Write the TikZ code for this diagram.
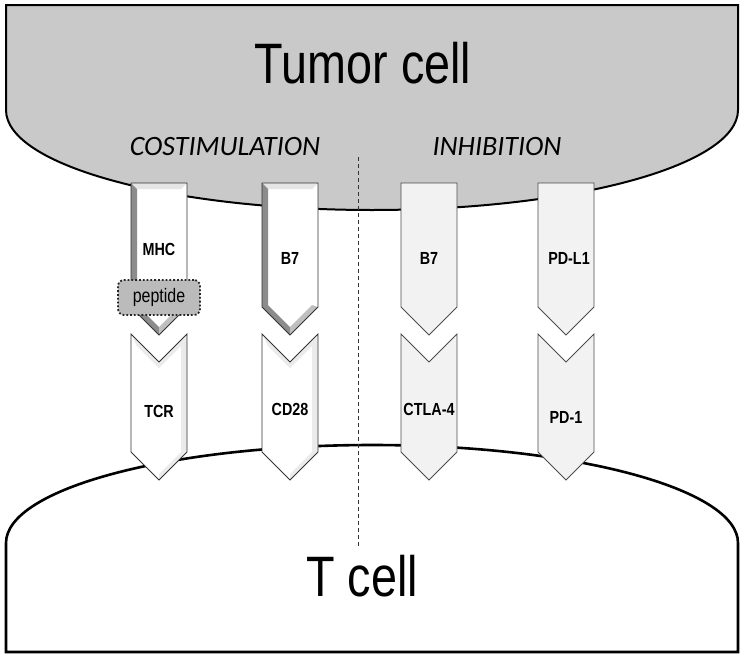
\documentclass[tikz,border=0pt]{standalone}
\usepackage{fontspec}
\setmainfont{Liberation Sans}
\newfontfamily\headfont{Carlito}
\definecolor{tumorgray}{RGB}{201,201,201}
\definecolor{palegray}{RGB}{242,242,242}
\definecolor{pepgray}{RGB}{187,187,187}
\newcommand{\narrow}[1]{\scalebox{0.82}[1]{#1}}

\begin{document}
\begin{tikzpicture}[x=1pt,y=-1pt,
  cell/.style={draw=black,line width=2.6pt},
  bigname/.style={anchor=base,font=\fontsize{57}{60}\selectfont},
  group/.style={anchor=base,font=\headfont\itshape\fontsize{28}{30}\selectfont},
  mol/.style={font=\fontsize{17.5}{19}\selectfont\bfseries},
  bright/.style={draw=black!80,line width=0.8pt},
  pale/.style={draw=black!70,line width=0.8pt,fill=palegray}
]
\useasboundingbox (0,0) rectangle (744,656);
% cells
\draw[cell,fill=white] (6,652) -- (6,543)
  arc[start angle=180,end angle=360,x radius=366,y radius=98] -- (738,652) -- cycle;
\draw[cell,line width=2pt,fill=tumorgray] (6,5) -- (738,5) -- (738,110)
  arc[start angle=0,end angle=180,x radius=366,y radius=100] -- cycle;

\node[bigname] (tumor) at (363,83) {\narrow{Tumor cell}};
\node[bigname] (tcell) at (362,596) {\narrow{T cell}};
\node[group] (costim) at (225,155) {COSTIMULATION};
\node[group] (inhib) at (497,155) {INHIBITION};

% divider
\coordinate (divtop) at (358,157);
\coordinate (divbot) at (358,546);
\draw[black!80,line width=0.6pt,dash pattern=on 4pt off 3pt] (divtop) -- (divbot);

% costimulation pairs
\foreach \x in {131,262}{
  \fill[white] (\x,183) -- ++(56,0) -- ++(0,124) -- ++(-28,28) -- ++(-28,-28) -- cycle;
  \fill[black!10] (\x,183) -- ++(56,0) -- ++(-6,6) -- ++(-44,0) -- cycle;
  \fill[black!45] (\x,183) -- ++(6,6) -- ++(0,116) -- ++(22,22) -- ++(0,8) -- ++(-28,-28) -- cycle;
  \fill[black!25] (\x+28,335) -- ++(0,-8) -- ++(22,-22) -- ++(6,2) -- cycle;
  \draw[bright] (\x,183) -- ++(56,0) -- ++(0,124) -- ++(-28,28) -- ++(-28,-28) -- cycle;
  \fill[white] (\x,334) -- ++(28,28) -- ++(28,-28) -- ++(0,118) -- ++(-28,28) -- ++(-28,-28) -- cycle;
  \fill[black!8] (\x,334) -- ++(28,28) -- ++(28,-28) -- ++(0,118) -- ++(-28,28) -- ++(0,-6)
    -- ++(22,-22) -- ++(0,-106) -- ++(-22,22) -- ++(-22,-22) -- cycle;
  \draw[bright] (\x,334) -- ++(28,28) -- ++(28,-28) -- ++(0,118) -- ++(-28,28) -- ++(-28,-28) -- cycle;
}
% inhibition pairs
\foreach \x in {401,538}{
  \draw[pale] (\x,183) -- ++(56,0) -- ++(0,124) -- ++(-28,28) -- ++(-28,-28) -- cycle;
  \draw[pale] (\x,334) -- ++(28,28) -- ++(28,-28) -- ++(0,118) -- ++(-28,28) -- ++(-28,-28) -- cycle;
}

\node[mol] (mhc) at (159,249) {\narrow{MHC}};
\node[mol] (bsevenA) at (290,258) {\narrow{B7}};
\node[mol] (bsevenB) at (429,258) {\narrow{B7}};
\node[mol] (pdlone) at (569,258) {\narrow{PD-L1}};
\node[mol] (tcr) at (159,411) {\narrow{TCR}};
\node[mol] (cdtwoeight) at (290,409) {\narrow{CD28}};
\node[mol] (ctla) at (429,409) {\narrow{CTLA-4}};
\node[mol] (pdone) at (566,417) {\narrow{PD-1}};

\node[draw=black!85,dotted,line width=1.8pt,rounded corners=6pt,fill=pepgray,
  minimum width=82pt,minimum height=35pt,inner sep=0pt,
  font=\fontsize{19.5}{21}\selectfont] (pep) at (159,297.5) {\narrow{peptide}};
\end{tikzpicture}
\end{document}
